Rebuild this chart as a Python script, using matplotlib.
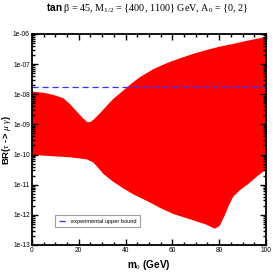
import numpy as np
import matplotlib
matplotlib.use("Agg")
import matplotlib.pyplot as plt
from matplotlib.ticker import LogLocator, MultipleLocator, NullFormatter

# upper edge of the allowed band, log10(BR)
m0_upper = [0, 4.8, 9.1, 13.4, 16.2, 19.1, 21.9, 23.6, 24.8, 26.2, 29.1, 31.9, 34.7, 37.6, 40.5, 43.3,
            46.2, 49.7, 51.8, 57.6, 63.2, 68.9, 74.7, 80.3, 86, 91.7, 97.4, 100]
log_upper = [-7.91, -7.95, -8.02, -8.13, -8.32, -8.57, -8.80, -8.92, -8.93, -8.85, -8.63, -8.39, -8.16, -7.97,
             -7.78, -7.60, -7.43, -7.27, -7.17, -6.97, -6.81, -6.66, -6.53, -6.42, -6.33, -6.23, -6.14, -6.08]

# lower edge of the band
m0_lower = [0, 7.7, 16.2, 23.4, 26.2, 28.3, 30.5, 34.7, 39, 43.3, 49.7, 55, 60.4, 68.9, 74.7, 78.2,
            80.3, 82.5, 84, 86, 88.9, 92.4, 96, 100]
log_lower = [-10.01, -10.05, -10.09, -10.16, -10.26, -10.44, -10.64, -10.90, -11.12, -11.32, -11.56, -11.78,
             -11.97, -12.18, -12.33, -12.46, -12.36, -12.00, -11.72, -11.40, -11.18, -10.98, -10.74, -10.50]

exp_bound = 1.75e-8
ytick_labels = ["1e-13", "1e-12", "1e-11", "1e-10", "1e-09", "1e-08", "1e-07", "1e-06"]

plt.rcParams['font.family'] = ['Liberation Sans', 'DejaVu Sans']
plt.rcParams['mathtext.fontset'] = 'custom'
plt.rcParams['mathtext.rm'] = 'Liberation Serif'
plt.rcParams['mathtext.it'] = 'Liberation Serif:italic'
plt.rcParams['mathtext.bf'] = 'Liberation Sans:bold'

fig = plt.figure(figsize=(2.73, 2.73), dpi=100)
ax = fig.add_axes([0.117, 0.1026, 0.857, 0.773])

xs = np.concatenate([m0_upper, m0_lower[::-1]])
ys = 10 ** np.concatenate([log_upper, log_lower[::-1]])
ax.fill(xs, ys, color="#ff0000", lw=0)

ax.axhline(exp_bound, color="#3333ff", lw=0.9, dashes=(5, 3), label="experimental upper bound")

ax.set_yscale("log")
ax.set_xlim(0, 100)
ax.set_ylim(1e-13, 1e-6)
ax.set_yticks([10.0 ** e for e in range(-13, -5)])
ax.set_yticklabels(ytick_labels)
ax.yaxis.set_minor_locator(LogLocator(base=10, subs=np.arange(2, 10), numticks=20))
ax.yaxis.set_minor_formatter(NullFormatter())
ax.xaxis.set_major_locator(MultipleLocator(20))
ax.xaxis.set_minor_locator(MultipleLocator(5))

ax.tick_params(which="both", direction="in", top=True, right=True, labelsize=4.8, pad=1.5, width=1)
ax.tick_params(which="major", length=4)
ax.tick_params(which="minor", length=2)
for s in ax.spines.values():
    s.set_linewidth(1.3)

ax.set_xlabel(r"m$_0$ (GeV)", fontsize=7.2, fontweight="bold")
ax.xaxis.set_label_coords(0.5, -0.062)
ax.set_ylabel(r"BR($\tau$ -> $\mu$ $\gamma$)", fontsize=6.8, fontweight="bold")
ax.yaxis.set_label_coords(-0.08, 0.5)

fig.text(0.54, 0.972, r"$\mathbf{tan}$ β = 45, M$_{1/2}$ = {400, 1100} GeV, A$_0$ = {0, 2}",
         ha="center", va="center", fontsize=7.3, family=["Liberation Serif", "DejaVu Serif"])

leg = ax.legend(loc="lower left", bbox_to_anchor=(0.1, 0.085), fontsize=4.1, frameon=True,
                fancybox=False, edgecolor="#888888", handlelength=1.3, borderpad=0.6, borderaxespad=0)
leg.get_frame().set_linewidth(0.8)

fig.savefig("out.png", dpi=100)
